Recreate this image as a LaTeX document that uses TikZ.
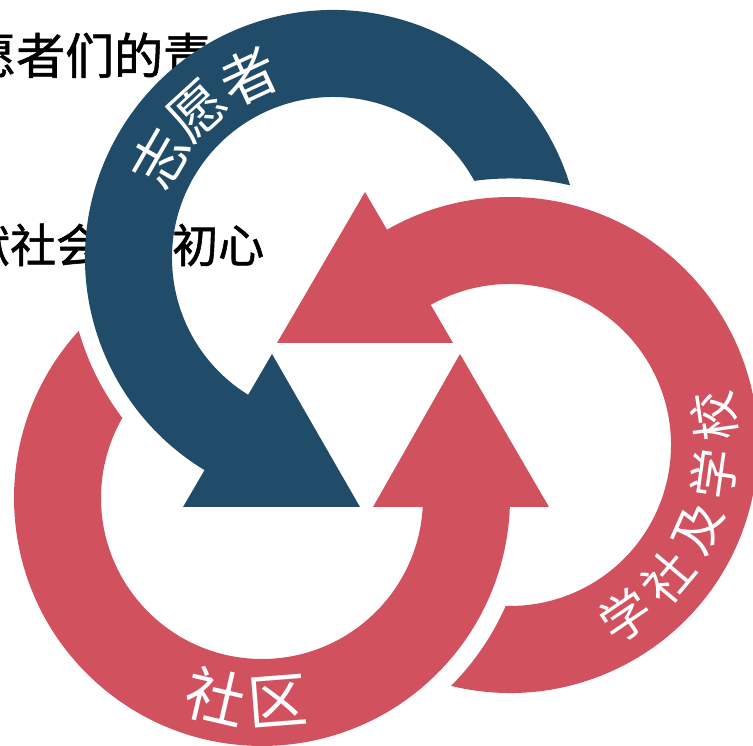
\documentclass[tikz,border=0pt]{standalone}
\usepackage{fontspec}
\newfontfamily\cjk{Noto Sans CJK SC}
\newfontfamily\cjkbg{Noto Sans CJK SC}[FakeBold=1.2]
\usetikzlibrary{calc}
\definecolor{ringblue}{RGB}{32,76,106}
\definecolor{ringred}{RGB}{209,81,94}
\begin{document}
\begin{tikzpicture}[x=1pt,y=1pt,
  bgtext/.style={anchor=base west,inner sep=0pt,text=black},
  ringtext/.style={text=white,inner sep=0pt}]
\useasboundingbox (0,0) rectangle (753,746);
\coordinate (B) at (333,488);
\coordinate (R) at (510,301);
\coordinate (L) at (262,248);
% background text (partly hidden)
\node[bgtext,font=\cjkbg\fontsize{49}{49}\selectfont] (t1) at (-33,672) {愿者们的责};
\node[bgtext,font=\cjkbg\fontsize{46}{46}\selectfont] (t2a) at (-36,483.5) {献社会};
\node[bgtext,font=\cjkbg\fontsize{46}{46}\selectfont] (t2b) at (172,483.5) {初心};
% blue arrow
\fill[ringblue] ($(B)+(17.02:248)$) arc[start angle=17.02, end angle=238.8, radius=248]
  -- (183,239) -- (360,239) -- (272,392) -- ($(B)+(238.2:161)$)
  arc[start angle=238.2, end angle=28.62, radius=161]
  arc[start angle=97.70, end angle=76.97, radius=266.5] -- cycle;
% right red arrow
\fill[ringred] ($(R)+(-103.76:248)$) arc[start angle=-103.76, end angle=119.74, radius=248]
  -- (365,554) -- (277,403) -- (453,403) -- ($(R)+(119.48:161)$)
  arc[start angle=119.48, end angle=-91.53, radius=161]
  arc[start angle=-23.88, end angle=-44.83, radius=266.5] -- cycle;
% left red arrow
\fill[ringred] ($(L)+(137.64:248)$) arc[start angle=137.64, end angle=357.92, radius=248]
  -- (549,239) -- (460,392) -- (373,239) -- ($(L)+(356.80:161)$)
  arc[start angle=356.80, end angle=150.17, radius=161]
  arc[start angle=217.19, end angle=196.0, radius=264.5] -- cycle;
% ring labels
\foreach \c/\a [count=\i] in {志/150,愿/132.5,者/115}
  \node[ringtext,font=\cjk\fontsize{56}{56}\selectfont,rotate=\a-90] (bt\i) at ($(B)+(\a:200)$) {\c};
\foreach \c/\a [count=\i] in {学/-56,社/-40,及/-24,学/-8,校/8}
  \node[ringtext,font=\cjk\fontsize{50}{50}\selectfont,rotate=\a+90] (rt\i) at ($(R)+(\a:206)$) {\c};
\foreach \c/\a [count=\i] in {社/-103,区/-85.5}
  \node[ringtext,font=\cjk\fontsize{60}{60}\selectfont,rotate=\a+90] (lt\i) at ($(L)+(\a:204)$) {\c};
\end{tikzpicture}
\end{document}
